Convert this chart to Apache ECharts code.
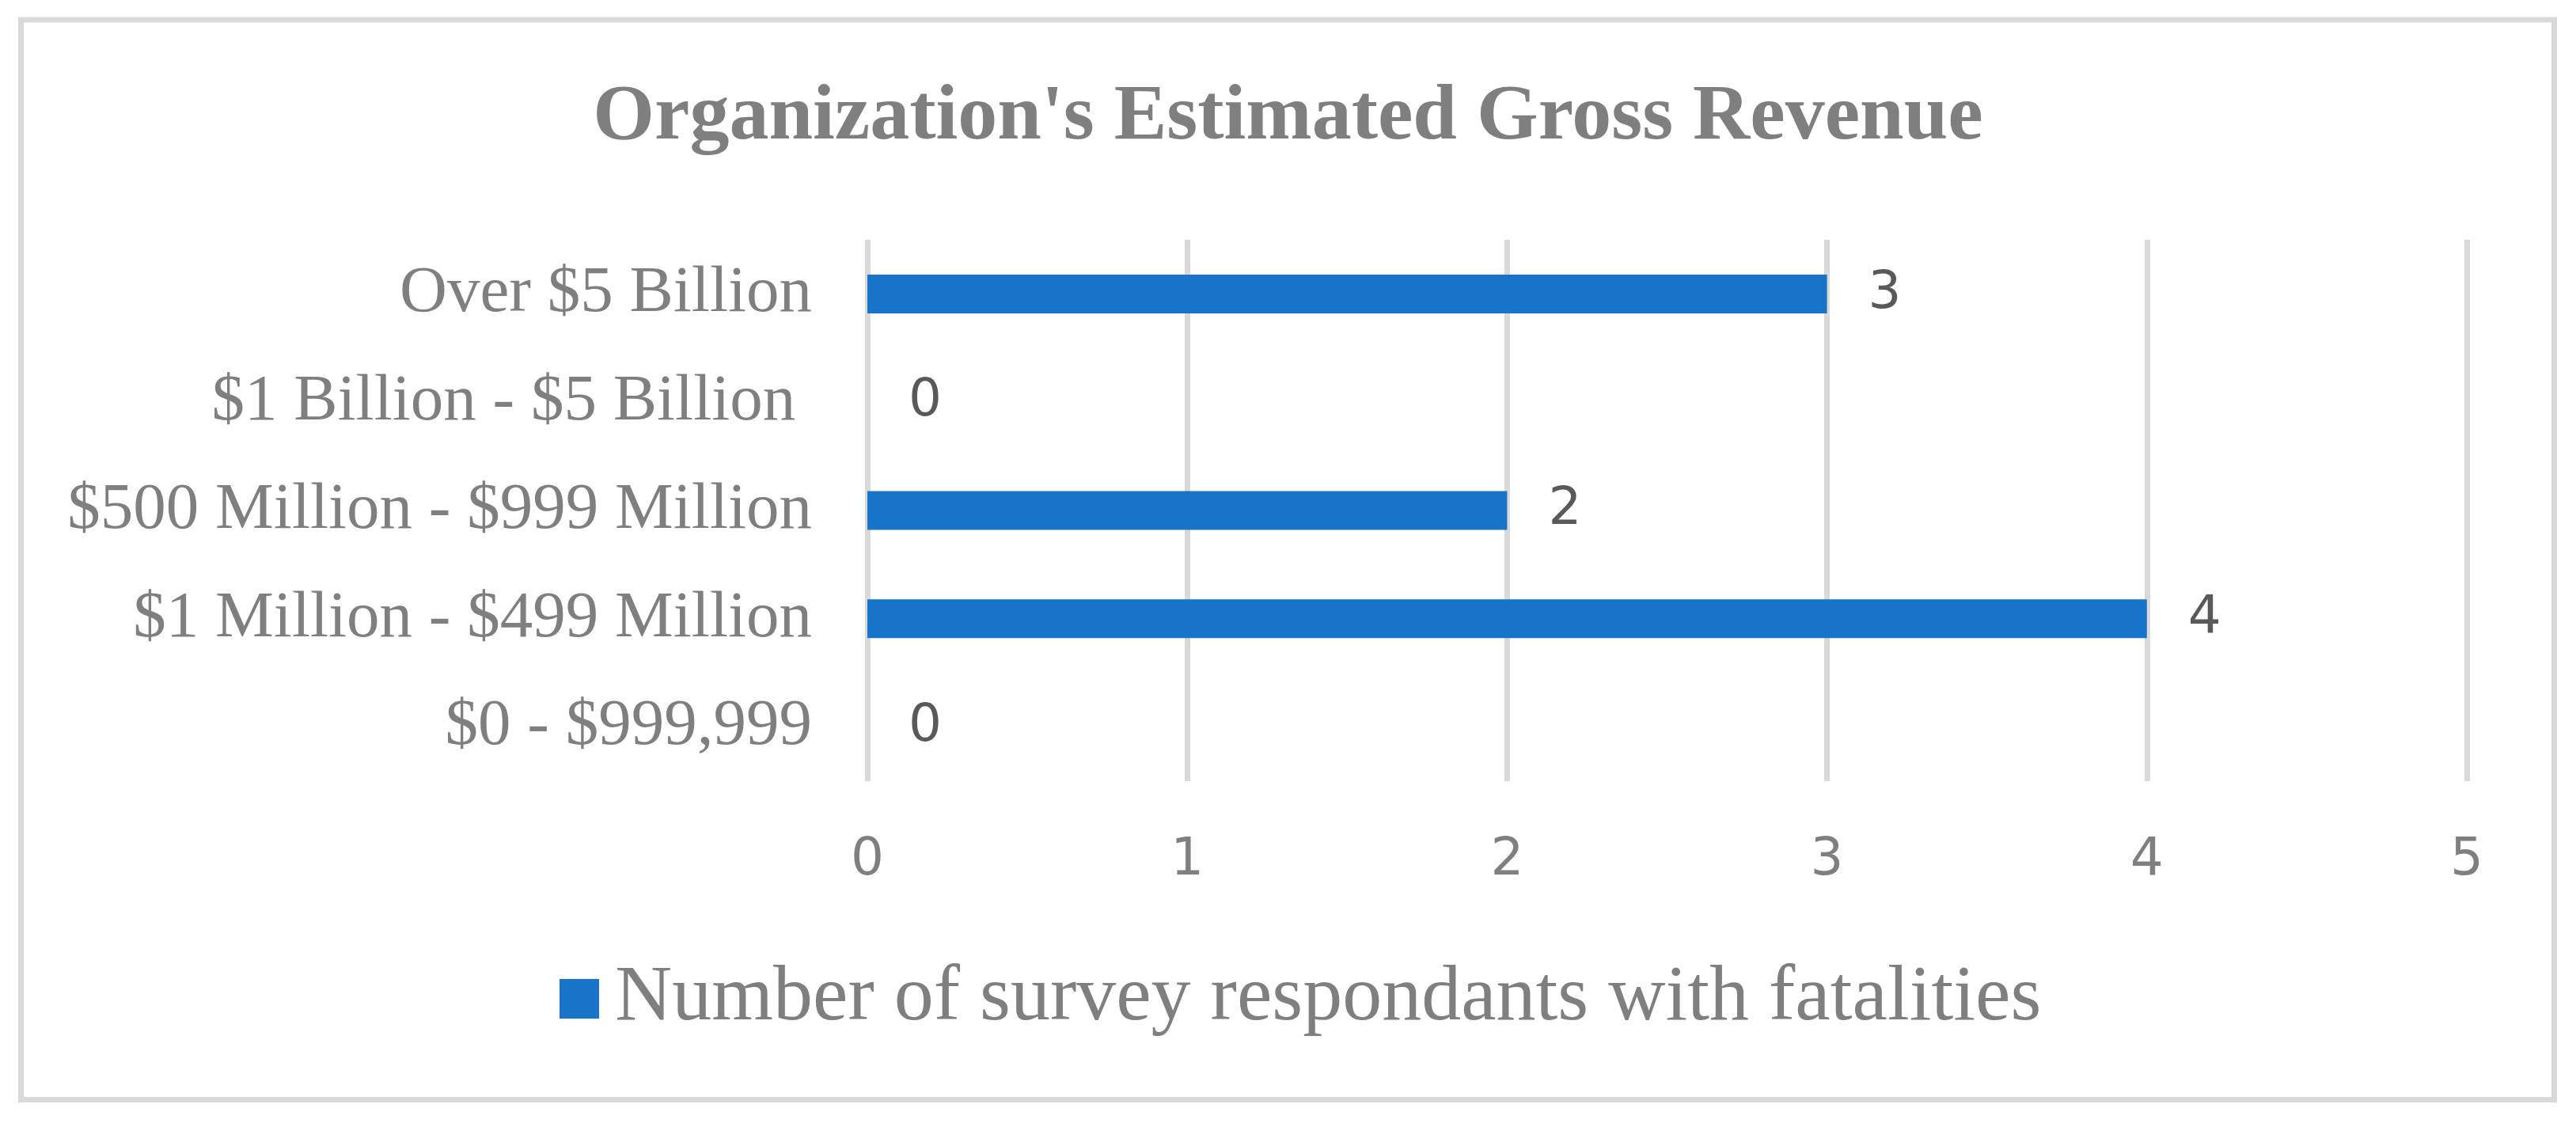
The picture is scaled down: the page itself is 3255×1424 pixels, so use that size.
<!DOCTYPE html>
<html>
<head>
<meta charset="utf-8">
<script src="https://cdn.jsdelivr.net/npm/echarts@6/dist/echarts.min.js"></script>
<style>
  html, body { margin: 0; padding: 0; background: #fff; }
  #chart { width: 3255px; height: 1424px; }
</style>
</head>
<body>
<div id="chart"></div>
<script>
// categories listed bottom to top, as the category axis draws them
var categories = ['$0 - $999,999', '$1 Million - $499 Million', '$500 Million - $999 Million', '$1 Billion - $5 Billion ', 'Over $5 Billion'];
var respondents = [0, 4, 2, 0, 3];
var seriesName = 'Number of survey respondants with fatalities';
var titleText = "Organization's Estimated Gross Revenue";

var chart = echarts.init(document.getElementById('chart'));

var option = {
	backgroundColor: '#ffffff',
	animation: false,
	title: {
		text: titleText,
		left: 'center',
		top: 94,
		textStyle: {
			fontFamily: 'Liberation Serif',
			fontWeight: 'bold',
			fontSize: 100,
			color: '#7f7f7f'
		}
	},
	legend: {
		data: [seriesName],
		left: 707,
		top: 1212,
		padding: 0,
		itemWidth: 50,
		itemHeight: 50,
		icon: 'rect',
		textStyle: {
			fontFamily: 'Liberation Serif',
			fontSize: 100,
			color: '#7f7f7f',
			padding: [0, 0, 0, 15]
		}
	},
	grid: {
		left: 1096,
		right: 3255 - 3117,
		top: 303,
		bottom: 1424 - 987,
		containLabel: false
	},
	xAxis: {
		type: 'value',
		min: 0,
		max: 5,
		interval: 1,
		axisLine: { show: false },
		axisTick: { show: false },
		splitLine: { show: true, lineStyle: { color: '#d9d9d9', width: 7 } },
		axisLabel: {
			margin: 68,
			fontFamily: 'DejaVu Sans',
			fontSize: 66,
			color: '#7f7f7f'
		}
	},
	yAxis: {
		type: 'category',
		data: categories,
		axisLine: { show: false },
		axisTick: { show: false },
		axisLabel: {
			margin: 70,
			fontFamily: 'Liberation Serif',
			fontSize: 83,
			color: '#7f7f7f'
		}
	},
	series: [{
		name: seriesName,
		type: 'bar',
		data: respondents,
		barWidth: 49,
		itemStyle: { color: '#1874c8' },
		label: {
			show: true,
			position: 'right',
			distance: 52,
			fontFamily: 'DejaVu Sans',
			fontSize: 66,
			color: '#595959'
		}
	}],
	graphic: [{
		type: 'rect',
		shape: { x: 26.5, y: 25, width: 3201, height: 1364.5 },
		style: { fill: null, stroke: '#d9d9d9', lineWidth: 7 },
		silent: true
	}]
};

chart.setOption(option);
</script>
</body>
</html>
